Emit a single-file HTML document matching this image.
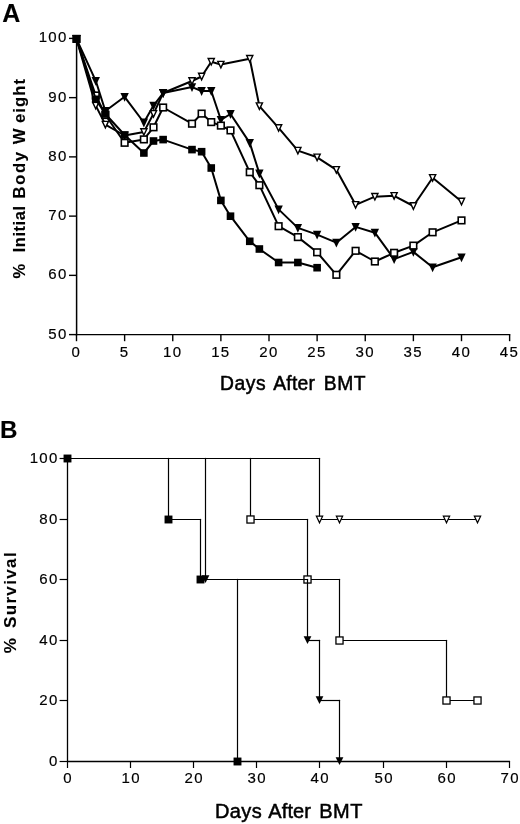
<!DOCTYPE html>
<html><head><meta charset="utf-8"><title>Figure</title>
<style>html,body{margin:0;padding:0;background:#fff}body{width:520px;height:824px;overflow:hidden;font-family:"Liberation Sans",sans-serif}svg text,.t{font-family:"Liberation Sans",sans-serif}</style>
</head><body>
<svg width="520" height="824" viewBox="0 0 520 824" style="display:block;filter:blur(0.35px)">
<rect width="520" height="824" fill="#fff"/>
<g class="t" fill="#000">
<line x1="76.6" y1="37.9" x2="76.6" y2="335.3" stroke="#000" stroke-width="1.5"/>
<line x1="75.7" y1="334.6" x2="510.325" y2="334.6" stroke="#000" stroke-width="1.4"/>
<line x1="69.0" y1="38.40" x2="76.6" y2="38.40" stroke="#000" stroke-width="1.4"/>
<text x="67.6" y="42.30" font-size="15" text-anchor="end" letter-spacing="1.3" stroke="#000" stroke-width="0.18">100</text>
<line x1="69.0" y1="97.64" x2="76.6" y2="97.64" stroke="#000" stroke-width="1.4"/>
<text x="67.6" y="101.54" font-size="15" text-anchor="end" letter-spacing="1.3" stroke="#000" stroke-width="0.18">90</text>
<line x1="69.0" y1="156.88" x2="76.6" y2="156.88" stroke="#000" stroke-width="1.4"/>
<text x="67.6" y="160.78" font-size="15" text-anchor="end" letter-spacing="1.3" stroke="#000" stroke-width="0.18">80</text>
<line x1="69.0" y1="216.12" x2="76.6" y2="216.12" stroke="#000" stroke-width="1.4"/>
<text x="67.6" y="220.02" font-size="15" text-anchor="end" letter-spacing="1.3" stroke="#000" stroke-width="0.18">70</text>
<line x1="69.0" y1="275.36" x2="76.6" y2="275.36" stroke="#000" stroke-width="1.4"/>
<text x="67.6" y="279.26" font-size="15" text-anchor="end" letter-spacing="1.3" stroke="#000" stroke-width="0.18">60</text>
<line x1="69.0" y1="334.60" x2="76.6" y2="334.60" stroke="#000" stroke-width="1.4"/>
<text x="67.6" y="338.50" font-size="15" text-anchor="end" letter-spacing="1.3" stroke="#000" stroke-width="0.18">50</text>
<line x1="76.50" y1="334.6" x2="76.50" y2="341.20000000000005" stroke="#000" stroke-width="1.4"/>
<text x="76.40" y="356.90" font-size="15" text-anchor="middle" letter-spacing="1.3" stroke="#000" stroke-width="0.18">0</text>
<line x1="124.62" y1="334.6" x2="124.62" y2="341.20000000000005" stroke="#000" stroke-width="1.4"/>
<text x="124.53" y="356.90" font-size="15" text-anchor="middle" letter-spacing="1.3" stroke="#000" stroke-width="0.18">5</text>
<line x1="172.75" y1="334.6" x2="172.75" y2="341.20000000000005" stroke="#000" stroke-width="1.4"/>
<text x="172.65" y="356.90" font-size="15" text-anchor="middle" letter-spacing="1.3" stroke="#000" stroke-width="0.18">10</text>
<line x1="220.88" y1="334.6" x2="220.88" y2="341.20000000000005" stroke="#000" stroke-width="1.4"/>
<text x="220.78" y="356.90" font-size="15" text-anchor="middle" letter-spacing="1.3" stroke="#000" stroke-width="0.18">15</text>
<line x1="269.00" y1="334.6" x2="269.00" y2="341.20000000000005" stroke="#000" stroke-width="1.4"/>
<text x="268.90" y="356.90" font-size="15" text-anchor="middle" letter-spacing="1.3" stroke="#000" stroke-width="0.18">20</text>
<line x1="317.12" y1="334.6" x2="317.12" y2="341.20000000000005" stroke="#000" stroke-width="1.4"/>
<text x="317.02" y="356.90" font-size="15" text-anchor="middle" letter-spacing="1.3" stroke="#000" stroke-width="0.18">25</text>
<line x1="365.25" y1="334.6" x2="365.25" y2="341.20000000000005" stroke="#000" stroke-width="1.4"/>
<text x="365.15" y="356.90" font-size="15" text-anchor="middle" letter-spacing="1.3" stroke="#000" stroke-width="0.18">30</text>
<line x1="413.38" y1="334.6" x2="413.38" y2="341.20000000000005" stroke="#000" stroke-width="1.4"/>
<text x="413.27" y="356.90" font-size="15" text-anchor="middle" letter-spacing="1.3" stroke="#000" stroke-width="0.18">35</text>
<line x1="461.50" y1="334.6" x2="461.50" y2="341.20000000000005" stroke="#000" stroke-width="1.4"/>
<text x="461.40" y="356.90" font-size="15" text-anchor="middle" letter-spacing="1.3" stroke="#000" stroke-width="0.18">40</text>
<line x1="509.62" y1="334.6" x2="509.62" y2="341.20000000000005" stroke="#000" stroke-width="1.4"/>
<text x="509.52" y="356.90" font-size="15" text-anchor="middle" letter-spacing="1.3" stroke="#000" stroke-width="0.18">45</text>
<polyline points="76.50,38.90 95.75,105.60 105.38,124.60 124.62,135.50 143.88,131.90 153.50,113.80 163.12,93.00 192.00,81.00 201.62,76.50 211.25,61.70 220.88,64.60 249.75,58.70 259.38,106.10 278.62,127.90 297.88,150.60 317.12,157.30 336.38,169.80 355.62,204.80 374.88,196.70 394.12,195.80 413.38,206.00 432.62,177.80 461.50,201.50" fill="none" stroke="#000" stroke-width="2.0" stroke-linejoin="round"/>
<polygon points="73.41,35.70 79.59,35.70 76.50,42.17" fill="#fff" stroke="#000" stroke-width="1.4" stroke-linejoin="miter" stroke-miterlimit="10"/>
<polygon points="92.66,102.40 98.84,102.40 95.75,108.87" fill="#fff" stroke="#000" stroke-width="1.4" stroke-linejoin="miter" stroke-miterlimit="10"/>
<polygon points="102.28,121.40 108.47,121.40 105.38,127.87" fill="#fff" stroke="#000" stroke-width="1.4" stroke-linejoin="miter" stroke-miterlimit="10"/>
<polygon points="121.53,132.30 127.72,132.30 124.62,138.77" fill="#fff" stroke="#000" stroke-width="1.4" stroke-linejoin="miter" stroke-miterlimit="10"/>
<polygon points="140.78,128.70 146.97,128.70 143.88,135.17" fill="#fff" stroke="#000" stroke-width="1.4" stroke-linejoin="miter" stroke-miterlimit="10"/>
<polygon points="150.41,110.60 156.59,110.60 153.50,117.07" fill="#fff" stroke="#000" stroke-width="1.4" stroke-linejoin="miter" stroke-miterlimit="10"/>
<polygon points="160.03,89.80 166.22,89.80 163.12,96.27" fill="#fff" stroke="#000" stroke-width="1.4" stroke-linejoin="miter" stroke-miterlimit="10"/>
<polygon points="188.91,77.80 195.09,77.80 192.00,84.27" fill="#fff" stroke="#000" stroke-width="1.4" stroke-linejoin="miter" stroke-miterlimit="10"/>
<polygon points="198.53,73.30 204.72,73.30 201.62,79.77" fill="#fff" stroke="#000" stroke-width="1.4" stroke-linejoin="miter" stroke-miterlimit="10"/>
<polygon points="208.16,58.50 214.34,58.50 211.25,64.97" fill="#fff" stroke="#000" stroke-width="1.4" stroke-linejoin="miter" stroke-miterlimit="10"/>
<polygon points="217.78,61.40 223.97,61.40 220.88,67.87" fill="#fff" stroke="#000" stroke-width="1.4" stroke-linejoin="miter" stroke-miterlimit="10"/>
<polygon points="246.66,55.50 252.84,55.50 249.75,61.97" fill="#fff" stroke="#000" stroke-width="1.4" stroke-linejoin="miter" stroke-miterlimit="10"/>
<polygon points="256.28,102.90 262.47,102.90 259.38,109.37" fill="#fff" stroke="#000" stroke-width="1.4" stroke-linejoin="miter" stroke-miterlimit="10"/>
<polygon points="275.53,124.70 281.72,124.70 278.62,131.17" fill="#fff" stroke="#000" stroke-width="1.4" stroke-linejoin="miter" stroke-miterlimit="10"/>
<polygon points="294.78,147.40 300.97,147.40 297.88,153.87" fill="#fff" stroke="#000" stroke-width="1.4" stroke-linejoin="miter" stroke-miterlimit="10"/>
<polygon points="314.03,154.10 320.22,154.10 317.12,160.57" fill="#fff" stroke="#000" stroke-width="1.4" stroke-linejoin="miter" stroke-miterlimit="10"/>
<polygon points="333.28,166.60 339.47,166.60 336.38,173.07" fill="#fff" stroke="#000" stroke-width="1.4" stroke-linejoin="miter" stroke-miterlimit="10"/>
<polygon points="352.53,201.60 358.72,201.60 355.62,208.07" fill="#fff" stroke="#000" stroke-width="1.4" stroke-linejoin="miter" stroke-miterlimit="10"/>
<polygon points="371.78,193.50 377.97,193.50 374.88,199.97" fill="#fff" stroke="#000" stroke-width="1.4" stroke-linejoin="miter" stroke-miterlimit="10"/>
<polygon points="391.03,192.60 397.22,192.60 394.12,199.07" fill="#fff" stroke="#000" stroke-width="1.4" stroke-linejoin="miter" stroke-miterlimit="10"/>
<polygon points="410.28,202.80 416.47,202.80 413.38,209.27" fill="#fff" stroke="#000" stroke-width="1.4" stroke-linejoin="miter" stroke-miterlimit="10"/>
<polygon points="429.53,174.60 435.72,174.60 432.62,181.07" fill="#fff" stroke="#000" stroke-width="1.4" stroke-linejoin="miter" stroke-miterlimit="10"/>
<polygon points="458.41,198.30 464.59,198.30 461.50,204.77" fill="#fff" stroke="#000" stroke-width="1.4" stroke-linejoin="miter" stroke-miterlimit="10"/>
<polyline points="76.50,38.90 95.75,80.80 105.38,111.00 124.62,96.80 143.88,122.50 153.50,105.60 163.12,93.00 192.00,87.10 201.62,91.00 211.25,91.00 220.88,119.80 230.50,114.00 249.75,142.90 259.38,173.50 278.62,209.40 297.88,227.90 317.12,234.60 336.38,242.70 355.62,226.90 374.88,232.70 394.12,259.10 413.38,251.90 432.62,267.30 461.50,257.30" fill="none" stroke="#000" stroke-width="2.0" stroke-linejoin="round"/>
<polygon points="72.30,35.00 80.70,35.00 76.50,43.80" fill="#000"/>
<polygon points="91.55,76.90 99.95,76.90 95.75,85.70" fill="#000"/>
<polygon points="101.17,107.10 109.58,107.10 105.38,115.90" fill="#000"/>
<polygon points="120.42,92.90 128.82,92.90 124.62,101.70" fill="#000"/>
<polygon points="139.68,118.60 148.07,118.60 143.88,127.40" fill="#000"/>
<polygon points="149.30,101.70 157.70,101.70 153.50,110.50" fill="#000"/>
<polygon points="158.93,89.10 167.32,89.10 163.12,97.90" fill="#000"/>
<polygon points="187.80,83.20 196.20,83.20 192.00,92.00" fill="#000"/>
<polygon points="197.43,87.10 205.82,87.10 201.62,95.90" fill="#000"/>
<polygon points="207.05,87.10 215.45,87.10 211.25,95.90" fill="#000"/>
<polygon points="216.68,115.90 225.07,115.90 220.88,124.70" fill="#000"/>
<polygon points="226.30,110.10 234.70,110.10 230.50,118.90" fill="#000"/>
<polygon points="245.55,139.00 253.95,139.00 249.75,147.80" fill="#000"/>
<polygon points="255.18,169.60 263.57,169.60 259.38,178.40" fill="#000"/>
<polygon points="274.43,205.50 282.82,205.50 278.62,214.30" fill="#000"/>
<polygon points="293.68,224.00 302.07,224.00 297.88,232.80" fill="#000"/>
<polygon points="312.93,230.70 321.32,230.70 317.12,239.50" fill="#000"/>
<polygon points="332.18,238.80 340.57,238.80 336.38,247.60" fill="#000"/>
<polygon points="351.43,223.00 359.82,223.00 355.62,231.80" fill="#000"/>
<polygon points="370.68,228.80 379.07,228.80 374.88,237.60" fill="#000"/>
<polygon points="389.93,255.20 398.32,255.20 394.12,264.00" fill="#000"/>
<polygon points="409.18,248.00 417.57,248.00 413.38,256.80" fill="#000"/>
<polygon points="428.43,263.40 436.82,263.40 432.62,272.20" fill="#000"/>
<polygon points="457.30,253.40 465.70,253.40 461.50,262.20" fill="#000"/>
<polyline points="76.50,38.90 95.75,95.50 105.38,115.00 124.62,142.80 143.88,139.40 153.50,127.30 163.12,107.50 192.00,123.70 201.62,113.60 211.25,122.10 220.88,125.60 230.50,130.40 249.75,172.20 259.38,185.20 278.62,226.20 297.88,237.10 317.12,252.30 336.38,274.80 355.62,250.80 374.88,261.50 394.12,252.80 413.38,245.60 432.62,232.30 461.50,220.40" fill="none" stroke="#000" stroke-width="2.0" stroke-linejoin="round"/>
<rect x="73.20" y="35.60" width="6.60" height="6.60" fill="#fff" stroke="#000" stroke-width="1.6"/>
<rect x="92.45" y="92.20" width="6.60" height="6.60" fill="#fff" stroke="#000" stroke-width="1.6"/>
<rect x="102.08" y="111.70" width="6.60" height="6.60" fill="#fff" stroke="#000" stroke-width="1.6"/>
<rect x="121.33" y="139.50" width="6.60" height="6.60" fill="#fff" stroke="#000" stroke-width="1.6"/>
<rect x="140.57" y="136.10" width="6.60" height="6.60" fill="#fff" stroke="#000" stroke-width="1.6"/>
<rect x="150.20" y="124.00" width="6.60" height="6.60" fill="#fff" stroke="#000" stroke-width="1.6"/>
<rect x="159.82" y="104.20" width="6.60" height="6.60" fill="#fff" stroke="#000" stroke-width="1.6"/>
<rect x="188.70" y="120.40" width="6.60" height="6.60" fill="#fff" stroke="#000" stroke-width="1.6"/>
<rect x="198.32" y="110.30" width="6.60" height="6.60" fill="#fff" stroke="#000" stroke-width="1.6"/>
<rect x="207.95" y="118.80" width="6.60" height="6.60" fill="#fff" stroke="#000" stroke-width="1.6"/>
<rect x="217.57" y="122.30" width="6.60" height="6.60" fill="#fff" stroke="#000" stroke-width="1.6"/>
<rect x="227.20" y="127.10" width="6.60" height="6.60" fill="#fff" stroke="#000" stroke-width="1.6"/>
<rect x="246.45" y="168.90" width="6.60" height="6.60" fill="#fff" stroke="#000" stroke-width="1.6"/>
<rect x="256.07" y="181.90" width="6.60" height="6.60" fill="#fff" stroke="#000" stroke-width="1.6"/>
<rect x="275.32" y="222.90" width="6.60" height="6.60" fill="#fff" stroke="#000" stroke-width="1.6"/>
<rect x="294.57" y="233.80" width="6.60" height="6.60" fill="#fff" stroke="#000" stroke-width="1.6"/>
<rect x="313.82" y="249.00" width="6.60" height="6.60" fill="#fff" stroke="#000" stroke-width="1.6"/>
<rect x="333.07" y="271.50" width="6.60" height="6.60" fill="#fff" stroke="#000" stroke-width="1.6"/>
<rect x="352.32" y="247.50" width="6.60" height="6.60" fill="#fff" stroke="#000" stroke-width="1.6"/>
<rect x="371.57" y="258.20" width="6.60" height="6.60" fill="#fff" stroke="#000" stroke-width="1.6"/>
<rect x="390.82" y="249.50" width="6.60" height="6.60" fill="#fff" stroke="#000" stroke-width="1.6"/>
<rect x="410.07" y="242.30" width="6.60" height="6.60" fill="#fff" stroke="#000" stroke-width="1.6"/>
<rect x="429.32" y="229.00" width="6.60" height="6.60" fill="#fff" stroke="#000" stroke-width="1.6"/>
<rect x="458.20" y="217.10" width="6.60" height="6.60" fill="#fff" stroke="#000" stroke-width="1.6"/>
<polyline points="76.50,38.90 95.75,99.30 105.38,114.00 124.62,135.00 143.88,153.00 153.50,141.00 163.12,139.60 192.00,149.60 201.62,151.70 211.25,168.00 220.88,200.40 230.50,216.20 249.75,241.30 259.38,249.00 278.62,262.50 297.88,262.50 317.12,267.70" fill="none" stroke="#000" stroke-width="2.0" stroke-linejoin="round"/>
<rect x="72.70" y="35.10" width="7.6" height="7.6" fill="#000"/>
<rect x="91.95" y="95.50" width="7.6" height="7.6" fill="#000"/>
<rect x="101.58" y="110.20" width="7.6" height="7.6" fill="#000"/>
<rect x="120.83" y="131.20" width="7.6" height="7.6" fill="#000"/>
<rect x="140.07" y="149.20" width="7.6" height="7.6" fill="#000"/>
<rect x="149.70" y="137.20" width="7.6" height="7.6" fill="#000"/>
<rect x="159.32" y="135.80" width="7.6" height="7.6" fill="#000"/>
<rect x="188.20" y="145.80" width="7.6" height="7.6" fill="#000"/>
<rect x="197.82" y="147.90" width="7.6" height="7.6" fill="#000"/>
<rect x="207.45" y="164.20" width="7.6" height="7.6" fill="#000"/>
<rect x="217.07" y="196.60" width="7.6" height="7.6" fill="#000"/>
<rect x="226.70" y="212.40" width="7.6" height="7.6" fill="#000"/>
<rect x="245.95" y="237.50" width="7.6" height="7.6" fill="#000"/>
<rect x="255.57" y="245.20" width="7.6" height="7.6" fill="#000"/>
<rect x="274.82" y="258.70" width="7.6" height="7.6" fill="#000"/>
<rect x="294.07" y="258.70" width="7.6" height="7.6" fill="#000"/>
<rect x="313.32" y="263.90" width="7.6" height="7.6" fill="#000"/>
<line x1="67.5" y1="458.0" x2="67.5" y2="762.1" stroke="#000" stroke-width="1.3"/>
<line x1="66.9" y1="761.5" x2="510.1" y2="761.5" stroke="#000" stroke-width="1.3"/>
<line x1="59.6" y1="458.50" x2="67.5" y2="458.50" stroke="#000" stroke-width="1.2"/>
<text x="58.6" y="462.85" font-size="15" text-anchor="end" letter-spacing="1.3" stroke="#000" stroke-width="0.18">100</text>
<line x1="59.6" y1="519.50" x2="67.5" y2="519.50" stroke="#000" stroke-width="1.2"/>
<text x="58.6" y="523.85" font-size="15" text-anchor="end" letter-spacing="1.3" stroke="#000" stroke-width="0.18">80</text>
<line x1="59.6" y1="579.50" x2="67.5" y2="579.50" stroke="#000" stroke-width="1.2"/>
<text x="58.6" y="583.85" font-size="15" text-anchor="end" letter-spacing="1.3" stroke="#000" stroke-width="0.18">60</text>
<line x1="59.6" y1="640.50" x2="67.5" y2="640.50" stroke="#000" stroke-width="1.2"/>
<text x="58.6" y="644.85" font-size="15" text-anchor="end" letter-spacing="1.3" stroke="#000" stroke-width="0.18">40</text>
<line x1="59.6" y1="700.50" x2="67.5" y2="700.50" stroke="#000" stroke-width="1.2"/>
<text x="58.6" y="704.85" font-size="15" text-anchor="end" letter-spacing="1.3" stroke="#000" stroke-width="0.18">20</text>
<line x1="59.6" y1="761.50" x2="67.5" y2="761.50" stroke="#000" stroke-width="1.2"/>
<text x="58.6" y="765.85" font-size="15" text-anchor="end" letter-spacing="1.3" stroke="#000" stroke-width="0.18">0</text>
<line x1="67.50" y1="761.5" x2="67.50" y2="768.0" stroke="#000" stroke-width="1.2"/>
<text x="68.20" y="783.30" font-size="15" text-anchor="middle" letter-spacing="1.3" stroke="#000" stroke-width="0.18">0</text>
<line x1="130.50" y1="761.5" x2="130.50" y2="768.0" stroke="#000" stroke-width="1.2"/>
<text x="131.20" y="783.30" font-size="15" text-anchor="middle" letter-spacing="1.3" stroke="#000" stroke-width="0.18">10</text>
<line x1="193.50" y1="761.5" x2="193.50" y2="768.0" stroke="#000" stroke-width="1.2"/>
<text x="194.20" y="783.30" font-size="15" text-anchor="middle" letter-spacing="1.3" stroke="#000" stroke-width="0.18">20</text>
<line x1="256.50" y1="761.5" x2="256.50" y2="768.0" stroke="#000" stroke-width="1.2"/>
<text x="257.20" y="783.30" font-size="15" text-anchor="middle" letter-spacing="1.3" stroke="#000" stroke-width="0.18">30</text>
<line x1="319.50" y1="761.5" x2="319.50" y2="768.0" stroke="#000" stroke-width="1.2"/>
<text x="320.20" y="783.30" font-size="15" text-anchor="middle" letter-spacing="1.3" stroke="#000" stroke-width="0.18">40</text>
<line x1="383.50" y1="761.5" x2="383.50" y2="768.0" stroke="#000" stroke-width="1.2"/>
<text x="384.20" y="783.30" font-size="15" text-anchor="middle" letter-spacing="1.3" stroke="#000" stroke-width="0.18">50</text>
<line x1="446.50" y1="761.5" x2="446.50" y2="768.0" stroke="#000" stroke-width="1.2"/>
<text x="447.20" y="783.30" font-size="15" text-anchor="middle" letter-spacing="1.3" stroke="#000" stroke-width="0.18">60</text>
<line x1="509.50" y1="761.5" x2="509.50" y2="768.0" stroke="#000" stroke-width="1.2"/>
<text x="510.20" y="783.30" font-size="15" text-anchor="middle" letter-spacing="1.3" stroke="#000" stroke-width="0.18">70</text>
<line x1="67.50" y1="458.50" x2="319.50" y2="458.50" stroke="#000" stroke-width="1.2" stroke-linecap="square"/>
<line x1="319.50" y1="458.50" x2="319.50" y2="519.50" stroke="#000" stroke-width="1.2" stroke-linecap="square"/>
<line x1="319.50" y1="519.50" x2="477.50" y2="519.50" stroke="#000" stroke-width="1.2" stroke-linecap="square"/>
<polygon points="316.39,516.23 322.61,516.23 319.50,522.75" fill="#fff" stroke="#000" stroke-width="1.25" stroke-linejoin="miter" stroke-miterlimit="10"/>
<polygon points="336.39,516.23 342.61,516.23 339.50,522.75" fill="#fff" stroke="#000" stroke-width="1.25" stroke-linejoin="miter" stroke-miterlimit="10"/>
<polygon points="443.39,516.23 449.61,516.23 446.50,522.75" fill="#fff" stroke="#000" stroke-width="1.25" stroke-linejoin="miter" stroke-miterlimit="10"/>
<polygon points="474.39,516.23 480.61,516.23 477.50,522.75" fill="#fff" stroke="#000" stroke-width="1.25" stroke-linejoin="miter" stroke-miterlimit="10"/>
<line x1="250.50" y1="458.50" x2="250.50" y2="519.50" stroke="#000" stroke-width="1.2" stroke-linecap="square"/>
<line x1="250.50" y1="519.50" x2="307.50" y2="519.50" stroke="#000" stroke-width="1.2" stroke-linecap="square"/>
<line x1="307.50" y1="519.50" x2="307.50" y2="579.50" stroke="#000" stroke-width="1.2" stroke-linecap="square"/>
<line x1="307.50" y1="579.50" x2="339.50" y2="579.50" stroke="#000" stroke-width="1.2" stroke-linecap="square"/>
<line x1="339.50" y1="579.50" x2="339.50" y2="640.50" stroke="#000" stroke-width="1.2" stroke-linecap="square"/>
<line x1="339.50" y1="640.50" x2="446.50" y2="640.50" stroke="#000" stroke-width="1.2" stroke-linecap="square"/>
<line x1="446.50" y1="640.50" x2="446.50" y2="700.50" stroke="#000" stroke-width="1.2" stroke-linecap="square"/>
<line x1="446.50" y1="700.50" x2="477.50" y2="700.50" stroke="#000" stroke-width="1.2" stroke-linecap="square"/>
<rect x="246.95" y="515.95" width="7.10" height="7.10" fill="#fff" stroke="#000" stroke-width="1.3"/>
<rect x="303.95" y="575.95" width="7.10" height="7.10" fill="#fff" stroke="#000" stroke-width="1.3"/>
<rect x="335.95" y="636.95" width="7.10" height="7.10" fill="#fff" stroke="#000" stroke-width="1.3"/>
<rect x="442.95" y="696.95" width="7.10" height="7.10" fill="#fff" stroke="#000" stroke-width="1.3"/>
<rect x="473.95" y="696.95" width="7.10" height="7.10" fill="#fff" stroke="#000" stroke-width="1.3"/>
<line x1="205.50" y1="458.50" x2="205.50" y2="579.50" stroke="#000" stroke-width="1.2" stroke-linecap="square"/>
<line x1="205.50" y1="579.50" x2="307.50" y2="579.50" stroke="#000" stroke-width="1.2" stroke-linecap="square"/>
<line x1="307.50" y1="579.50" x2="307.50" y2="640.50" stroke="#000" stroke-width="1.2" stroke-linecap="square"/>
<line x1="307.50" y1="640.50" x2="319.50" y2="640.50" stroke="#000" stroke-width="1.2" stroke-linecap="square"/>
<line x1="319.50" y1="640.50" x2="319.50" y2="700.50" stroke="#000" stroke-width="1.2" stroke-linecap="square"/>
<line x1="319.50" y1="700.50" x2="339.50" y2="700.50" stroke="#000" stroke-width="1.2" stroke-linecap="square"/>
<line x1="339.50" y1="700.50" x2="339.50" y2="761.50" stroke="#000" stroke-width="1.2" stroke-linecap="square"/>
<polygon points="201.60,575.30 209.40,575.30 205.50,583.10" fill="#000"/>
<polygon points="303.60,636.30 311.40,636.30 307.50,644.10" fill="#000"/>
<polygon points="315.60,696.30 323.40,696.30 319.50,704.10" fill="#000"/>
<polygon points="335.60,757.30 343.40,757.30 339.50,765.10" fill="#000"/>
<line x1="168.50" y1="458.50" x2="168.50" y2="519.50" stroke="#000" stroke-width="1.2" stroke-linecap="square"/>
<line x1="168.50" y1="519.50" x2="200.50" y2="519.50" stroke="#000" stroke-width="1.2" stroke-linecap="square"/>
<line x1="200.50" y1="519.50" x2="200.50" y2="579.50" stroke="#000" stroke-width="1.2" stroke-linecap="square"/>
<line x1="200.50" y1="579.50" x2="205.50" y2="579.50" stroke="#000" stroke-width="1.2" stroke-linecap="square"/>
<line x1="237.50" y1="579.50" x2="237.50" y2="761.50" stroke="#000" stroke-width="1.2" stroke-linecap="square"/>
<rect x="63.55" y="454.55" width="7.9" height="7.9" fill="#000"/>
<rect x="164.55" y="515.55" width="7.9" height="7.9" fill="#000"/>
<rect x="196.55" y="575.55" width="7.9" height="7.9" fill="#000"/>
<rect x="233.55" y="757.55" width="7.9" height="7.9" fill="#000"/>
<text x="2.21" y="21.70" font-size="25.0" font-weight="bold" letter-spacing="0.000" stroke="#000" stroke-width="0.12">A</text>
<text x="-0.01" y="437.50" font-size="24.2" font-weight="bold" letter-spacing="0.000" stroke="#000" stroke-width="0.12">B</text>
<text x="219.99" y="390.00" font-size="19.3" letter-spacing="0.613" stroke="#000" stroke-width="0.5">Days</text>
<text x="273.30" y="390.00" font-size="19.3" letter-spacing="0.209" stroke="#000" stroke-width="0.5">After</text>
<text x="323.79" y="390.00" font-size="19.3" letter-spacing="0.499" stroke="#000" stroke-width="0.5">BMT</text>
<text x="214.94" y="817.70" font-size="20" letter-spacing="0.374" stroke="#000" stroke-width="0.5">Days</text>
<text x="268.30" y="817.70" font-size="20" letter-spacing="0.115" stroke="#000" stroke-width="0.5">After</text>
<text x="319.24" y="817.70" font-size="20" letter-spacing="0.544" stroke="#000" stroke-width="0.5">BMT</text>
<text transform="translate(24.90,278.33) rotate(-90)" x="-0.26" y="0" font-size="16.6" font-weight="bold" letter-spacing="0.000" stroke="#000" stroke-width="0.12">%</text>
<text transform="translate(24.90,251.30) rotate(-90)" x="-1.04" y="0" font-size="16.6" font-weight="bold" letter-spacing="0.512" stroke="#000" stroke-width="0.12">Initial</text>
<text transform="translate(24.90,197.50) rotate(-90)" x="-1.04" y="0" font-size="16.6" font-weight="bold" letter-spacing="1.677" stroke="#000" stroke-width="0.12">Body</text>
<text transform="translate(24.90,144.21) rotate(-90)" x="0.00" y="0" font-size="16.6" font-weight="bold" letter-spacing="0.000" stroke="#000" stroke-width="0.12">W</text>
<text transform="translate(24.90,122.60) rotate(-90)" x="-0.52" y="0" font-size="16.6" font-weight="bold" letter-spacing="1.137" stroke="#000" stroke-width="0.12">eight</text>
<text transform="translate(16.45,653.00) rotate(-90)" x="-0.27" y="0" font-size="17" font-weight="bold" letter-spacing="0.000" stroke="#000" stroke-width="0.12">%</text>
<text transform="translate(16.45,627.80) rotate(-90)" x="-0.27" y="0" font-size="17" font-weight="bold" letter-spacing="1.360" stroke="#000" stroke-width="0.12">Survival</text>
</g></svg>
</body></html>
